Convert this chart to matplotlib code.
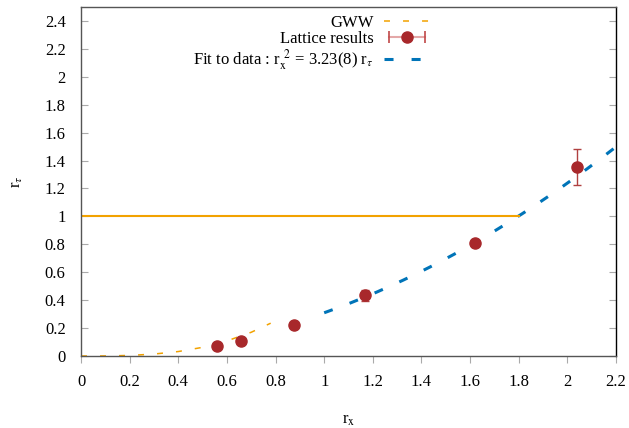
import numpy as np
import matplotlib
matplotlib.use("Agg")
import matplotlib.pyplot as plt
from matplotlib.lines import Line2D
from matplotlib.legend_handler import HandlerLine2D, HandlerTuple

plt.rcParams['font.family'] = ['Liberation Serif', 'DejaVu Serif']
plt.rcParams['mathtext.fontset'] = 'stix'
plt.rcParams['font.size'] = 12
plt.rcParams['lines.scale_dashes'] = False

# lattice data: r_x, r_tau and errors
rx_lat = [0.558, 0.657, 0.876, 1.168, 1.62, 2.04]
rt_lat = [0.071, 0.109, 0.219, 0.436, 0.81, 1.355]
rt_err = [0.005, 0.008, 0.01, 0.04, 0.02, 0.13]

# GWW prediction curve
rx_gww = [0.0, 0.1, 0.2, 0.3, 0.4, 0.5, 0.6, 0.7, 0.78]
rt_gww = [0.0, 0.0005, 0.004, 0.014, 0.032, 0.062, 0.108, 0.17, 0.235]

# fit r_x^2 = c * r_tau over the range below
fit_c = 3.23
fit_range = (1.0, 2.2)

# horizontal reference line r_tau = 1
ref_level = 1.0
ref_xmax = 1.8

orange = '#f2a200'
blue = '#0074b8'
red = '#a8282b'

fig = plt.figure(figsize=(6.29, 4.28), dpi=100)
ax = fig.add_axes([81 / 629, 72 / 428, 535 / 629, 349 / 428])

gww, = ax.plot(rx_gww, rt_gww, color=orange, lw=1.1, dashes=(4.3, 9.4))

ax.errorbar(rx_lat, rt_lat, yerr=rt_err, fmt='o', color=red, ms=8,
            ecolor='#b04040', elinewidth=1.0, capsize=3, capthick=1.0,
            zorder=5)

xf = np.linspace(fit_range[0], fit_range[1], 200)
fit, = ax.plot(xf, xf ** 2 / fit_c, color=blue, lw=2.2, dashes=(6.5, 13))

ax.plot([0, ref_xmax], [ref_level, ref_level], color=orange, lw=1.5)

ax.set_xlim(0, 2.2)
ax.set_ylim(0, 2.5)
ax.set_xticks(np.arange(0, 2.21, 0.2))
ax.set_yticks(np.arange(0, 2.41, 0.2))
ax.set_xticklabels(['0', '0.2', '0.4', '0.6', '0.8', '1', '1.2', '1.4', '1.6', '1.8', '2', '2.2'])
ax.set_yticklabels(['0', '0.2', '0.4', '0.6', '0.8', '1', '1.2', '1.4', '1.6', '1.8', '2', '2.2', '2.4'])

ax.tick_params(axis='x', direction='out', length=5, color='#aaaaaa', pad=8, labelsize=12)
ax.tick_params(axis='y', direction='in', length=5, color='#aaaaaa', pad=11,
               right=True, labelsize=12)

for s in ['left', 'top', 'bottom']:
    ax.spines[s].set_color('#555555')
ax.spines['right'].set_color('black')
for s in ax.spines.values():
    s.set_linewidth(1.0)

ax.set_xlabel(r'r$_{\rm x}$', fontsize=12, labelpad=16)
ax.set_ylabel(r'r$_{\tau}$', fontsize=12, labelpad=14)

# key sample for the lattice points: horizontal bar with caps and a dot
bar = Line2D([], [], color='#e4a8a8', lw=1.5, marker='|', ms=8,
             markeredgecolor='#c04848', markeredgewidth=1.2)
dot = Line2D([], [], ls='none', marker='o', ms=8, color=red)

ax.legend([gww, (bar, dot), fit],
          ['GWW', 'Lattice results',
           r'Fit to data : r$_{\rm x}^{\;\;2}$ = 3.23(8) r$_{\tau}$'],
          handler_map={bar: HandlerLine2D(numpoints=2),
                       dot: HandlerLine2D(numpoints=1),
                       tuple: HandlerTuple(ndivide=1, pad=0)},
          loc='upper right', bbox_to_anchor=(438 / 629, 1 - 7 / 428),
          bbox_transform=fig.transFigure, frameon=False, markerfirst=False,
          borderpad=0, handlelength=2.75, handletextpad=0.6, labelspacing=0.0,
          fontsize=12)

fig.savefig('out.png', dpi=100)
